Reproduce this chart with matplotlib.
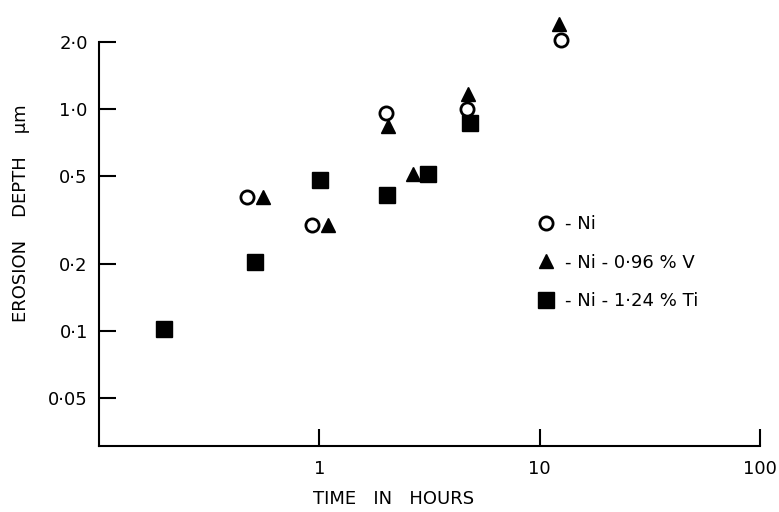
import numpy as np
import matplotlib
matplotlib.use("Agg")
from matplotlib import pyplot as plt

# erosion depth (um) vs time (h)
ni_t = [0.47, 0.93, 2.0, 4.7, 12.5]
ni_d = [0.40, 0.30, 0.96, 1.0, 2.05]

v_t = [0.555, 1.1, 2.04, 2.67, 4.73, 12.3]
v_d = [0.40, 0.30, 0.84, 0.51, 1.17, 2.4]

ti_t = [0.197, 0.51, 1.01, 2.02, 3.1, 4.85]
ti_d = [0.102, 0.204, 0.48, 0.41, 0.51, 0.86]

y_ticks = [0.05, 0.1, 0.2, 0.5, 1.0, 2.0]
y_labels = ["0·05", "0·1", "0·2", "0·5", "1·0", "2·0"]
x_ticks = [1, 10, 100]
x_labels = ["1", "10", "100"]

plt.rcParams["font.family"] = "DejaVu Sans"
plt.rcParams["font.size"] = 13

fig = plt.figure(figsize=(7.79, 5.12), dpi=100)
ax = fig.add_axes([0.127, 0.129, 0.8486, 0.789])

ax.plot(ni_t, ni_d, "o", ms=9.5, mfc="white", mec="black", mew=2,
        clip_on=False, label="- Ni", zorder=3)
ax.plot(v_t, v_d, "^", ms=10.5, color="black", clip_on=False,
        label="- Ni - 0·96 % V", zorder=2)
ax.plot(ti_t, ti_d, "s", ms=11, color="black", clip_on=False,
        label="- Ni - 1·24 % Ti", zorder=1)

ax.set_xscale("log")
ax.set_yscale("log")
ax.set_xlim(0.1, 100)
ax.set_ylim(0.0305, 2.0)

ax.set_xticks(x_ticks)
ax.set_xticklabels(x_labels)
ax.set_yticks(y_ticks)
ax.set_yticklabels(y_labels)
ax.minorticks_off()

for s in ["top", "right"]:
    ax.spines[s].set_visible(False)
for s in ["left", "bottom"]:
    ax.spines[s].set_linewidth(1.5)

ax.tick_params(axis="both", direction="in", length=12, width=1.5)
ax.tick_params(axis="y", pad=8)
ax.tick_params(axis="x", pad=10)

ax.set_xlabel("TIME   IN   HOURS")
ax.xaxis.set_label_coords(0.446, -0.11)
ax.set_ylabel("EROSION    DEPTH    μm")
ax.yaxis.set_label_coords(-0.105, 0.577)

ax.legend(loc="upper left", bbox_to_anchor=(0.662, 0.572), frameon=False,
          handlelength=1.0, handletextpad=0.6, labelspacing=1.15,
          borderpad=0, borderaxespad=0, numpoints=1)

fig.savefig("out.png", dpi=100)
